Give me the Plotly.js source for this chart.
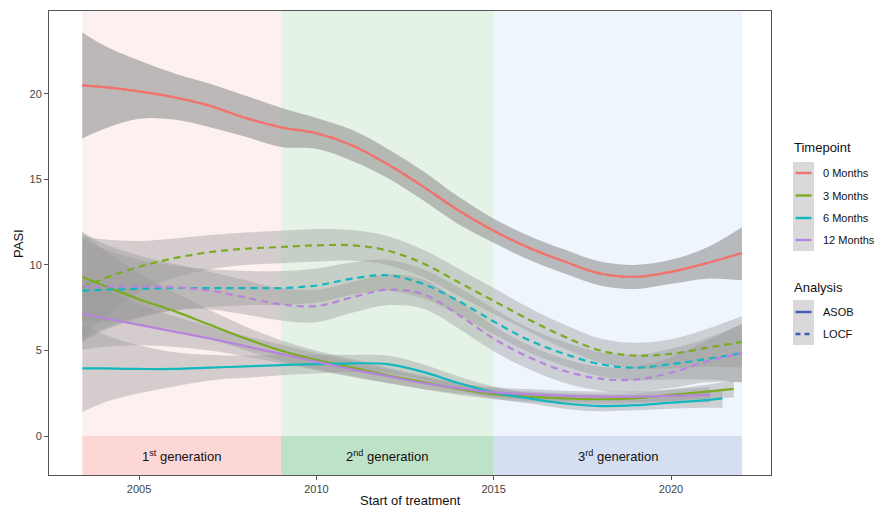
<!DOCTYPE html>
<html>
<head>
<meta charset="utf-8">
<script src="https://cdn.plot.ly/plotly-3.0.1.min.js"></script>
<style>html,body{margin:0;padding:0;background:#fff;}#chart{width:876px;height:509px;}</style>
</head>
<body>
<div id="chart"></div>
<script>
// ---------- data ----------
const timepoints = ["0 Months", "3 Months", "6 Months", "12 Months"];
const analyses = ["ASOB", "LOCF"];
const tpColors = ["#F0736E", "#7BAB22", "#12B8BE", "#B883DC"];

const generations = ["1<sup>st</sup> generation", "2<sup>nd</sup> generation", "3<sup>rd</sup> generation"];
const genStart = [2003.4, 2009, 2015];
const genEnd = [2009, 2015, 2022];

const xTicks = [2005, 2010, 2015, 2020];
const yTicks = [0, 5, 10, 15, 20];

const years = [2003.4, 2004, 2005, 2006, 2007, 2008, 2009, 2010, 2011, 2012, 2013, 2014, 2015, 2016, 2017, 2018, 2019, 2020, 2021, 2022];

// 0 Months (identical under both analyses)
const m0_mid = [20.5, 20.4, 20.15, 19.8, 19.3, 18.6, 18.05, 17.7, 17.0, 15.9, 14.6, 13.2, 12.0, 11.0, 10.2, 9.5, 9.3, 9.6, 10.1, 10.7];
const m0_lo  = [17.4, 17.95, 18.55, 18.5, 18.05, 17.5, 16.9, 16.8, 16.1, 15.1, 13.8, 12.4, 11.3, 10.3, 9.5, 8.8, 8.6, 8.9, 9.2, 9.1];
const m0_hi  = [23.6, 22.85, 21.95, 21.2, 20.6, 19.9, 19.2, 18.6, 17.9, 16.8, 15.5, 14.0, 12.7, 11.7, 10.9, 10.2, 10.0, 10.3, 11.0, 12.2];

// LOCF
const m3L_mid = [8.7, 9.2, 9.9, 10.4, 10.75, 10.95, 11.05, 11.15, 11.15, 10.85, 10.1, 9.0, 7.9, 6.8, 5.8, 5.0, 4.7, 4.8, 5.15, 5.5];
const m3L_lo  = [5.7, 6.9, 8.4, 9.25, 9.75, 10.0, 10.1, 10.2, 10.25, 10.0, 9.3, 8.2, 7.15, 6.1, 5.1, 4.3, 3.95, 3.95, 4.05, 4.0];
const m3L_hi  = [11.7, 11.5, 11.4, 11.55, 11.75, 11.9, 12.0, 12.1, 12.05, 11.7, 10.9, 9.8, 8.65, 7.5, 6.5, 5.7, 5.45, 5.65, 6.25, 7.0];

const m6L_mid = [8.5, 8.55, 8.6, 8.65, 8.65, 8.65, 8.65, 8.8, 9.2, 9.4, 8.9, 7.9, 6.7, 5.6, 4.8, 4.2, 4.0, 4.2, 4.5, 4.85];
const m6L_lo  = [5.5, 6.15, 6.9, 7.35, 7.55, 7.65, 7.65, 7.8, 8.25, 8.5, 8.05, 7.1, 5.95, 4.9, 4.1, 3.5, 3.25, 3.3, 3.3, 3.15];
const m6L_hi  = [11.5, 10.95, 10.3, 9.95, 9.75, 9.65, 9.65, 9.8, 10.15, 10.3, 9.75, 8.7, 7.45, 6.3, 5.5, 4.9, 4.75, 5.1, 5.7, 6.55];

const m12L_mid = [8.75, 8.75, 8.75, 8.7, 8.5, 8.1, 7.7, 7.6, 8.1, 8.55, 8.3, 7.1, 5.7, 4.6, 3.8, 3.35, 3.3, 3.7, 4.35, 4.85];
const m12L_lo  = [5.55, 6.25, 6.95, 7.35, 7.4, 7.1, 6.75, 6.65, 7.2, 7.65, 7.45, 6.3, 4.95, 3.9, 3.1, 2.65, 2.55, 2.8, 3.15, 3.15];
const m12L_hi  = [11.95, 11.25, 10.55, 10.05, 9.6, 9.1, 8.65, 8.55, 9.0, 9.45, 9.15, 7.9, 6.45, 5.3, 4.5, 4.05, 4.05, 4.6, 5.55, 6.55];

// ASOB
const years3A = [2003.4, 2004, 2005, 2006, 2007, 2008, 2009, 2010, 2011, 2012, 2013, 2014, 2015, 2016, 2017, 2018, 2019, 2020, 2021, 2021.77];
const m3A_mid = [9.3, 8.8, 8.0, 7.3, 6.5, 5.7, 5.0, 4.45, 4.0, 3.55, 3.15, 2.75, 2.45, 2.3, 2.2, 2.15, 2.2, 2.4, 2.6, 2.75];
const m3A_lo  = [6.7, 6.7, 6.5, 6.2, 5.65, 5.0, 4.4, 3.9, 3.5, 3.1, 2.75, 2.4, 2.15, 2.0, 1.9, 1.85, 1.9, 2.05, 2.2, 2.25];
const m3A_hi  = [11.9, 10.9, 9.5, 8.4, 7.35, 6.4, 5.6, 5.0, 4.5, 4.0, 3.55, 3.1, 2.75, 2.6, 2.5, 2.45, 2.5, 2.75, 3.0, 3.25];

const years6A = [2003.4, 2004, 2005, 2006, 2007, 2008, 2009, 2010, 2011, 2012, 2013, 2014, 2015, 2016, 2017, 2018, 2019, 2020, 2021, 2021.45];
const m6A_mid = [3.95, 3.95, 3.92, 3.92, 4.0, 4.07, 4.15, 4.2, 4.25, 4.2, 3.75, 3.1, 2.55, 2.2, 1.9, 1.75, 1.8, 1.95, 2.1, 2.2];
const m6A_lo  = [1.4, 1.95, 2.5, 2.9, 3.25, 3.4, 3.55, 3.65, 3.75, 3.7, 3.3, 2.7, 2.2, 1.9, 1.6, 1.45, 1.5, 1.6, 1.65, 1.65];
const m6A_hi  = [6.5, 5.95, 5.3, 4.9, 4.75, 4.7, 4.75, 4.75, 4.75, 4.7, 4.2, 3.5, 2.9, 2.5, 2.2, 2.05, 2.1, 2.3, 2.55, 2.75];

const years12A = [2003.4, 2004, 2005, 2006, 2007, 2008, 2009, 2010, 2011, 2012, 2013, 2014, 2015, 2016, 2017, 2018, 2019, 2020, 2021.1];
const m12A_mid = [7.15, 6.9, 6.5, 6.1, 5.7, 5.25, 4.8, 4.35, 3.9, 3.5, 3.1, 2.8, 2.55, 2.45, 2.35, 2.3, 2.3, 2.35, 2.4];
const m12A_lo  = [5.05, 5.2, 5.3, 5.2, 5.0, 4.65, 4.25, 3.85, 3.45, 3.1, 2.75, 2.5, 2.25, 2.15, 2.05, 2.0, 2.0, 2.0, 1.95];
const m12A_hi  = [9.25, 8.6, 7.7, 7.0, 6.4, 5.85, 5.35, 4.85, 4.35, 3.9, 3.45, 3.1, 2.85, 2.75, 2.65, 2.6, 2.6, 2.7, 2.85];

// ---------- assemble ----------
const series = [
  {tp: 0, an: 0, x: years, mid: m0_mid, lo: m0_lo, hi: m0_hi},
  {tp: 1, an: 0, x: years3A, mid: m3A_mid, lo: m3A_lo, hi: m3A_hi},
  {tp: 2, an: 0, x: years6A, mid: m6A_mid, lo: m6A_lo, hi: m6A_hi},
  {tp: 3, an: 0, x: years12A, mid: m12A_mid, lo: m12A_lo, hi: m12A_hi},
  {tp: 0, an: 1, x: years, mid: m0_mid, lo: m0_lo, hi: m0_hi},
  {tp: 1, an: 1, x: years, mid: m3L_mid, lo: m3L_lo, hi: m3L_hi},
  {tp: 2, an: 1, x: years, mid: m6L_mid, lo: m6L_lo, hi: m6L_hi},
  {tp: 3, an: 1, x: years, mid: m12L_mid, lo: m12L_lo, hi: m12L_hi}
];

const bandFill = "rgba(153,153,153,0.4)";
const dashes = ["solid", "7px,5px"];
const traces = [];
series.forEach(s => {
  traces.push({x: s.x, y: s.lo, mode: "lines", line: {width: 0, shape: "spline"}, hoverinfo: "skip", showlegend: false});
  traces.push({x: s.x, y: s.hi, mode: "lines", fill: "tonexty", fillcolor: bandFill, line: {width: 0, shape: "spline"}, hoverinfo: "skip", showlegend: false});
});
series.forEach(s => {
  traces.push({x: s.x, y: s.mid, mode: "lines", name: timepoints[s.tp] + " " + analyses[s.an],
    line: {color: tpColors[s.tp], width: 2.2, dash: dashes[s.an], shape: "spline"}, showlegend: false});
});

// ---------- layout ----------
const W = 876, H = 509;
const mL = 49, mR = 105, mT = 11, mB = 34;
const xRange = [2002.46, 2022.82];
const yRange = [-2.28, 24.85];
const pw = W - mL - mR, ph = H - mT - mB;
const px = v => (v - mL) / pw;
const py = v => (H - mB - v) / ph;

const lightCols = ["#fdf0f0", "#e5f3e6", "#eef5fc"];
const bandCols = ["#fdd6d6", "#bee2c8", "#d4e0f2"];

const shapes = [];
const annotations = [];
for (let i = 0; i < generations.length; i++) {
  shapes.push({type: "rect", xref: "x", yref: "y", x0: genStart[i], x1: genEnd[i], y0: 0, y1: yRange[1], fillcolor: lightCols[i], line: {width: 0}, layer: "below"});
  shapes.push({type: "rect", xref: "x", yref: "y", x0: genStart[i], x1: genEnd[i], y0: yRange[0], y1: 0, fillcolor: bandCols[i], line: {width: 0}, layer: "below"});
  annotations.push({xref: "x", yref: "y", x: (genStart[i] + genEnd[i]) / 2, y: yRange[0] / 2, text: generations[i], showarrow: false,
    font: {size: 13, color: "#111"}, xanchor: "center", yanchor: "middle"});
}

// axis titles
annotations.push({xref: "paper", yref: "paper", x: px(18), y: py(244), text: "PASI", textangle: -90, showarrow: false, font: {size: 13, color: "#111"}, xanchor: "center", yanchor: "middle"});
annotations.push({xref: "paper", yref: "paper", x: 0.5, y: py(500), text: "Start of treatment", showarrow: false, font: {size: 13, color: "#111"}, xanchor: "center", yanchor: "middle"});

// custom legend (ggplot style)
const keyFill = "#d9d9d9";
const legendBlue = "#3E5DBA";
function legendBlock(title, titleY, boxTop, rowY, labels, colors, dashList) {
  annotations.push({xref: "paper", yref: "paper", x: px(792), y: py(titleY), text: title, showarrow: false, font: {size: 13, color: "#111"}, xanchor: "left", yanchor: "middle"});
  shapes.push({type: "rect", xref: "paper", yref: "paper", x0: px(793), x1: px(814), y0: py(boxTop), y1: py(rowY[rowY.length - 1] + 11), fillcolor: keyFill, line: {width: 0}});
  labels.forEach((lab, i) => {
    shapes.push({type: "line", xref: "paper", yref: "paper", x0: px(795.5), x1: px(811.5), y0: py(rowY[i]), y1: py(rowY[i]), line: {color: colors[i], width: 2.4, dash: dashList[i]}});
    annotations.push({xref: "paper", yref: "paper", x: px(821), y: py(rowY[i]), text: lab, showarrow: false, font: {size: 11, color: "#111"}, xanchor: "left", yanchor: "middle"});
  });
}
legendBlock("Timepoint", 148, 162, [173, 195.5, 218, 240], timepoints, tpColors, ["solid", "solid", "solid", "solid"]);
legendBlock("Analysis", 287, 300, [312, 334], analyses, [legendBlue, legendBlue], ["solid", "5px,4px"]);

const axisCol = "#555555";
const layout = {
  width: W, height: H,
  margin: {l: mL, r: mR, t: mT, b: mB, pad: 0},
  paper_bgcolor: "#fff", plot_bgcolor: "#fff",
  font: {family: "Liberation Sans, Arial, Helvetica, sans-serif", color: "#111"},
  showlegend: false,
  xaxis: {range: xRange, tickvals: xTicks, ticktext: xTicks.map(String), showgrid: false, zeroline: false,
    showline: true, mirror: true, linecolor: axisCol, linewidth: 1, ticks: "outside", ticklen: 4, tickcolor: axisCol,
    tickfont: {size: 11, color: "#444"}, fixedrange: true},
  yaxis: {range: yRange, tickvals: yTicks, ticktext: yTicks.map(String), showgrid: false, zeroline: false,
    showline: true, mirror: true, linecolor: axisCol, linewidth: 1, ticks: "outside", ticklen: 4, tickcolor: axisCol,
    tickfont: {size: 11, color: "#444"}, fixedrange: true},
  shapes: shapes,
  annotations: annotations
};

Plotly.newPlot("chart", traces, layout, {displayModeBar: false, staticPlot: true});
</script>
</body>
</html>
